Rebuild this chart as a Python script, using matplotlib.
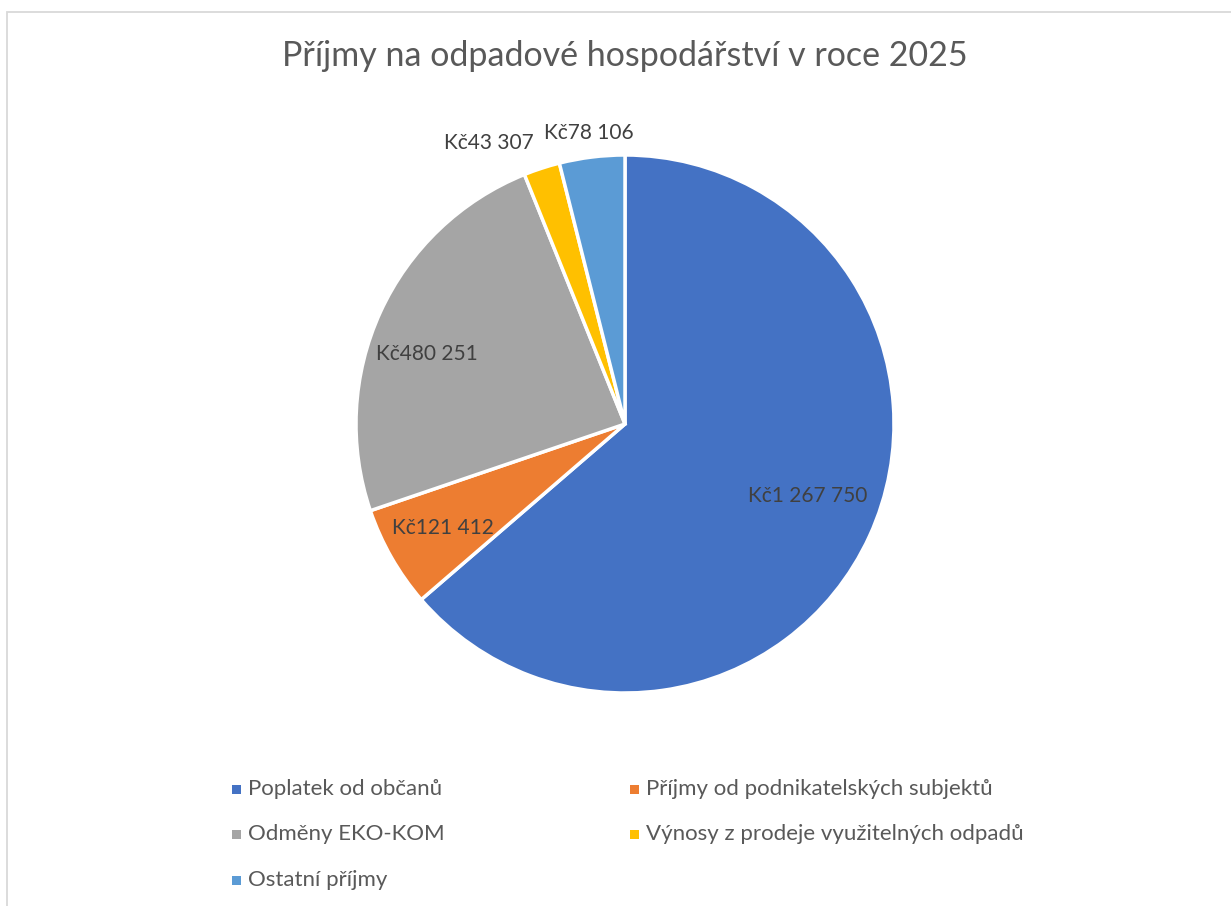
import numpy as np
import matplotlib.pyplot as plt
from matplotlib.patches import Rectangle

plt.rcParams['font.family'] = ['Lato', 'DejaVu Sans']

categories = ["Poplatek od občanů", "Příjmy od podnikatelských subjektů", "Odměny EKO-KOM",
              "Výnosy z prodeje využitelných odpadů", "Ostatní příjmy"]
values = [1267750, 121412, 480251, 43307, 78106]
value_labels = ["Kč1 267 750", "Kč121 412", "Kč480 251", "Kč43 307", "Kč78 106"]
colors = ["#4472C4", "#ED7D31", "#A5A5A5", "#FFC000", "#5B9BD5"]
label_dist = [0.73, 0.78, 0.78, 1.10, 1.09]
label_nudge = [3, 0, 5, 0, 0]  # degrees, to mimic Excel placement
label_ha = ["center", "center", "center", "right", "center"]

W, H = 1231, 906
fig = plt.figure(figsize=(W / 100, H / 100), dpi=100)

# chart border (only left and top visible in the crop)
fig.patches.append(Rectangle((6.5 / W, -1), 2, 1 - 11.5 / H + 1, transform=fig.transFigure,
                             fill=False, edgecolor="#D9D9D9", linewidth=1.3))

cx, cy, r = 625, 424, 269
ax = fig.add_axes([(cx - r) / W, (H - cy - r) / H, 2 * r / W, 2 * r / H])
wedges, _ = ax.pie(values, colors=colors, startangle=90, counterclock=False,
                   wedgeprops=dict(edgecolor="white", linewidth=2.5))
ax.set_xlim(-1, 1)
ax.set_ylim(-1, 1)
ax.set_aspect("equal")
ax.axis("off")

for w, lab, d, nd, ha in zip(wedges, value_labels, label_dist, label_nudge, label_ha):
    ang = np.deg2rad((w.theta1 + w.theta2) / 2 + nd)
    ax.text(d * np.cos(ang), d * np.sin(ang), lab, ha=ha, va="center",
            fontsize=15, color="#404040", clip_on=False)

fig.text(625 / W, 1 - 56 / H, "Příjmy na odpadové hospodářství v roce 2025",
         ha="center", va="center", fontsize=24.5, color="#595959")

# legend, row-wise like the original
leg_x = [232, 630]
leg_y = [789, 834, 880]
for i, (cat, col) in enumerate(zip(categories, colors)):
    lx = leg_x[i % 2]
    ly = leg_y[i // 2]
    fig.patches.append(Rectangle((lx / W, 1 - (ly + 4.5) / H), 9 / W, 9 / H,
                                 transform=fig.transFigure, facecolor=col, edgecolor="none"))
    fig.text((lx + 16) / W, 1 - ly / H, cat, ha="left", va="center",
             fontsize=16, color="#595959")

fig.savefig("out.png", dpi=100)
